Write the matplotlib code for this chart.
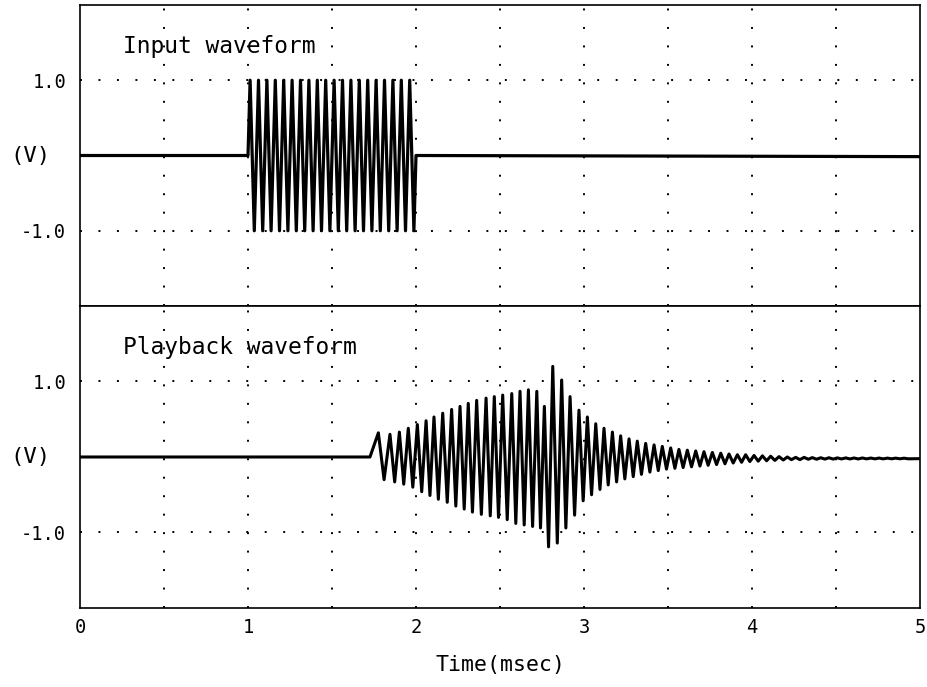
#!/usr/bin/env python3
import matplotlib
matplotlib.use("Agg")
import matplotlib.pyplot as plt

# Input burst: baseline, then 20 cycles of +/-1 V between 1 and 2 ms
in_t = [0.0, 1.0,
        1.0125, 1.0375, 1.0625, 1.0875, 1.1125, 1.1375, 1.1625, 1.1875,
        1.2125, 1.2375, 1.2625, 1.2875, 1.3125, 1.3375, 1.3625, 1.3875,
        1.4125, 1.4375, 1.4625, 1.4875, 1.5125, 1.5375, 1.5625, 1.5875,
        1.6125, 1.6375, 1.6625, 1.6875, 1.7125, 1.7375, 1.7625, 1.7875,
        1.8125, 1.8375, 1.8625, 1.8875, 1.9125, 1.9375, 1.9625, 1.9875,
        2.0, 5.0]
in_v = [0.0, 0.0,
        1.0, -1.0, 1.0, -1.0, 1.0, -1.0, 1.0, -1.0,
        1.0, -1.0, 1.0, -1.0, 1.0, -1.0, 1.0, -1.0,
        1.0, -1.0, 1.0, -1.0, 1.0, -1.0, 1.0, -1.0,
        1.0, -1.0, 1.0, -1.0, 1.0, -1.0, 1.0, -1.0,
        1.0, -1.0, 1.0, -1.0, 1.0, -1.0, 1.0, -1.0,
        0.0, -0.015]

# Playback: peaks and troughs read per cycle
pb_peak_t = [1.776, 1.845, 1.901, 1.954, 2.008, 2.060, 2.107, 2.159, 2.212, 2.262,
             2.311, 2.361, 2.417, 2.466, 2.516, 2.570, 2.619, 2.669, 2.719, 2.764,
             2.814, 2.867, 2.917, 2.970, 3.020, 3.070, 3.119, 3.169, 3.218, 3.268,
             3.317, 3.367, 3.417, 3.466, 3.516, 3.565, 3.615, 3.665, 3.714, 3.764,
             3.814, 3.863, 3.913, 3.962, 4.012, 4.062, 4.111, 4.161, 4.210, 4.260,
             4.310, 4.359, 4.409, 4.458, 4.508, 4.558, 4.607, 4.657, 4.707, 4.756,
             4.806, 4.855, 4.905]
pb_peak_v = [0.32, 0.30, 0.33, 0.38, 0.43, 0.48, 0.53, 0.58, 0.63, 0.67,
             0.71, 0.75, 0.78, 0.80, 0.82, 0.84, 0.87, 0.89, 0.87, 0.67,
             1.20, 1.02, 0.80, 0.62, 0.53, 0.44, 0.38, 0.33, 0.28, 0.24,
             0.21, 0.18, 0.16, 0.14, 0.12, 0.10, 0.09, 0.08, 0.07, 0.06,
             0.05, 0.04, 0.03, 0.03, 0.02, 0.015, 0.01, 0.005, 0.0, -0.005,
             -0.005, -0.008, -0.01, -0.01, -0.012, -0.012, -0.013, -0.013, -0.014, -0.014,
             -0.015, -0.015, -0.016]
pb_trough_t = [1.810, 1.873, 1.927, 1.981, 2.034, 2.083, 2.133, 2.186, 2.237, 2.287,
               2.336, 2.389, 2.442, 2.491, 2.543, 2.594, 2.644, 2.694, 2.741, 2.789,
               2.841, 2.892, 2.944, 2.995, 3.045, 3.095, 3.144, 3.194, 3.243, 3.293,
               3.342, 3.392, 3.442, 3.491, 3.541, 3.590, 3.640, 3.690, 3.739, 3.789,
               3.839, 3.888, 3.938, 3.987, 4.037, 4.087, 4.136, 4.186, 4.235, 4.285,
               4.335, 4.384, 4.434, 4.483, 4.533, 4.583, 4.632, 4.682, 4.732, 4.781,
               4.831, 4.880, 4.930]
pb_trough_v = [-0.30, -0.33, -0.36, -0.40, -0.46, -0.51, -0.56, -0.60, -0.65, -0.69,
               -0.73, -0.76, -0.78, -0.80, -0.83, -0.88, -0.90, -0.92, -0.94, -1.19,
               -1.14, -0.94, -0.77, -0.58, -0.50, -0.43, -0.37, -0.33, -0.29, -0.26,
               -0.23, -0.20, -0.18, -0.16, -0.15, -0.14, -0.13, -0.12, -0.11, -0.10,
               -0.09, -0.08, -0.07, -0.06, -0.055, -0.05, -0.045, -0.04, -0.035, -0.035,
               -0.03, -0.03, -0.028, -0.028, -0.026, -0.026, -0.026, -0.025, -0.025, -0.025,
               -0.024, -0.024, -0.024]
pb_start = [(0.0, 0.0), (1.726, 0.0)]
pb_end = [(5.0, -0.022)]

x_ticks = [0, 1, 2, 3, 4, 5]
x_grid = [0.5, 1.0, 1.5, 2.0, 2.5, 3.0, 3.5, 4.0, 4.5]
y_grid = [-1.0, 1.0]

FONT = ["DejaVu Sans Mono"]


def playback_series():
    pts = list(pb_start)
    for pt, pv, tt, tv in zip(pb_peak_t, pb_peak_v, pb_trough_t, pb_trough_v):
        pts.append((pt, pv))
        pts.append((tt, tv))
    pts += pb_end
    return [p[0] for p in pts], [p[1] for p in pts]


def style_panel(ax, title):
    ax.set_xlim(0, 5)
    ax.set_ylim(-2, 2)
    for x in x_grid:
        ax.axvline(x, color="black", lw=1.4, linestyle=(0, (1, 8.5)), zorder=1)
    for y in y_grid:
        ax.axhline(y, color="black", lw=1.4, linestyle=(0, (1, 8.5)), zorder=1)
    for s in ax.spines.values():
        s.set_linewidth(1.2)
    ax.set_yticks(y_grid, ["-1.0", "1.0"])
    ax.tick_params(axis="y", length=0, pad=10, labelsize=13.5)
    ax.text(-0.083, 0.0, "(V)", transform=ax.get_yaxis_transform(),
            ha="left", va="center", fontsize=16, family=FONT)
    ax.text(0.256, 1.45, title, ha="left", va="center", fontsize=16.5, family=FONT)
    for lab in ax.get_yticklabels():
        lab.set_family(FONT)


plt.rcParams["font.family"] = FONT

fig = plt.figure(figsize=(9.28, 6.87), dpi=100, facecolor="white")
ax1 = fig.add_axes([0.0862, 0.5546, 0.9052, 0.4381])
ax2 = fig.add_axes([0.0862, 0.1150, 0.9052, 0.4396])

style_panel(ax1, "Input waveform")
style_panel(ax2, "Playback waveform")

ax1.plot(in_t, in_v, color="black", lw=2.3, zorder=3, solid_joinstyle="round")
pt, pv = playback_series()
ax2.plot(pt, pv, color="black", lw=2.2, zorder=3, solid_joinstyle="round")

ax1.set_xticks([])
ax2.set_xticks(x_ticks, [str(v) for v in x_ticks])
ax2.tick_params(axis="x", length=0, pad=7, labelsize=13.5)

fig.text(500 / 928, 1 - 665 / 687, "Time(msec)", ha="center", va="center",
         fontsize=15.5, family=FONT)

fig.savefig("out.png", dpi=100)
